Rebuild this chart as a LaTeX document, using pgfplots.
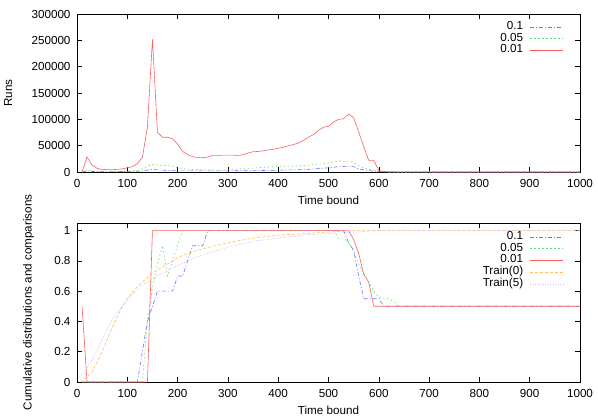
\documentclass[border=0pt]{standalone}
\usepackage{fontspec}
\setmainfont{Liberation Sans}
\usepackage{pgfplots}
\pgfplotsset{compat=1.18}
\definecolor{cblue}{RGB}{110,110,255}
\definecolor{cgreen}{RGB}{100,225,100}
\definecolor{cred}{RGB}{255,95,95}
\definecolor{corange}{RGB}{255,190,90}
\definecolor{cviolet}{RGB}{212,180,255}
\pgfplotsset{
  gp/.style={
    scale only axis, width=503bp,
    xmin=0, xmax=1000, xtick={0,100,...,1000},
    tick align=inside, major tick length=5bp,
    axis line style={line width=0.6bp},
    every tick/.style={black,line width=0.6bp},
    /pgf/number format/assume math mode=true,
    /pgf/number format/set thousands separator={},
    xticklabel style={yshift=-4bp},
    yticklabel style={xshift=-3bp},
    font=\fontsize{11.7}{14}\selectfont,
    legend plot pos=right,
    legend cell align=right,
    legend style={draw=none, fill=none, anchor=north east, row sep=0pt, column sep=7bp,
      font=\fontsize{11.7}{14}\selectfont,
      nodes={inner sep=0pt, text height=8.2bp, text depth=3.5bp}},
    legend image code/.code={\draw[##1] (0bp,0bp) -- (33bp,0bp);},
    xlabel={Time bound},
    every axis plot/.append style={line width=0.6bp},
  },
  sblue/.style={cblue, dash pattern=on 4bp off 2bp on 1bp off 2bp},
  sgreen/.style={cgreen, dash pattern=on 1.5bp off 2.5bp},
  sred/.style={cred, solid},
  sorange/.style={corange, dash pattern=on 3bp off 2bp},
  sviolet/.style={cviolet, dash pattern=on 1bp off 1.5bp},
}
\begin{document}
\begin{tikzpicture}
\path[use as bounding box] (0,0) rectangle (598bp,-419bp);
% ---------------- top ----------------
\begin{axis}[gp, at={(77bp,-14bp)}, anchor=north west, height=158bp,
  ymin=0, ymax=300000, ytick={0,50000,100000,150000,200000,250000,300000},
  scaled y ticks=false, yticklabel style={/pgf/number format/fixed},
  ylabel={Runs},
  ylabel style={at={(axis description cs:-0.137,0.5)}, anchor=center},
  xlabel style={at={(axis description cs:0.5,-0.177)}, anchor=center},
  legend style={at={(axis description cs:0.974,0.968)}},
]
\addplot[sblue] coordinates {
(10,0)(20,2000)(30,1000)(40,800)(60,700)(80,800)(100,1000)(120,1500)(130,2000)
(140,3500)(150,5000)(160,4000)(170,3500)(180,3000)(200,2200)(250,2000)(300,2200)
(350,2500)(400,3500)(450,4500)(480,6500)(500,8000)(520,10000)(540,11000)(550,10000)
(560,6000)(580,2500)(600,800)(620,0)(1000,0)};
\addlegendentry{0.1}
\addplot[sgreen] coordinates {
(10,0)(20,4000)(30,2000)(40,1500)(60,1300)(80,1300)(100,1500)(110,2000)(120,3000)
(130,6000)(140,11000)(150,14500)(160,13000)(170,12500)(180,12000)(190,11000)
(200,8000)(210,6500)(220,5000)(250,4500)(280,3500)(300,4000)(310,5000)(350,7500)
(380,9500)(410,11000)(440,11500)(470,14000)(500,17000)(520,21000)(530,20500)
(540,19000)(550,19000)(560,11500)(570,8000)(580,5000)(600,2000)(610,500)(620,0)(1000,0)};
\addlegendentry{0.05}
\addplot[sred] coordinates {
(10,0)(20,28500)(30,13000)(40,7000)(50,5000)(60,4500)(70,4500)(80,5000)(90,6000)
(100,8000)(110,10000)(120,16000)(130,28000)(140,85000)(150,252000)(160,75000)
(170,66000)(180,66000)(190,63000)(200,53000)(210,39000)(220,33000)(230,29000)
(240,27500)(250,27000)(260,28500)(270,31500)(280,31500)(290,32000)(300,32000)
(310,32000)(320,31500)(330,33000)(340,36000)(350,38500)(360,39000)(370,40000)
(380,42000)(390,43000)(400,45000)(410,47000)(420,50000)(430,52000)(440,55000)
(450,60000)(460,66000)(470,71000)(480,79000)(490,85000)(500,87000)(510,95000)
(520,100000)(530,101000)(540,110000)(550,103000)(560,76000)(570,48000)(580,22000)
(590,22000)(600,3000)(610,1000)(620,500)(650,200)(700,100)(1000,0)};
\addlegendentry{0.01}
\end{axis}
% ---------------- bottom ----------------
\begin{axis}[gp, at={(77bp,-223bp)}, anchor=north west, height=159bp,
  ymin=0, ymax=1.05, ytick={0,0.2,0.4,0.6,0.8,1},
  ylabel={Cumulative distributions and comparisons},
  ylabel style={at={(axis description cs:-0.0964,0.5)}, anchor=center},
  xlabel style={at={(axis description cs:0.5,-0.176)}, anchor=center},
  legend style={at={(axis description cs:0.974,0.962)}},
]
\addplot[sblue] coordinates {
(10,0)(120,0)(130,0.2)(140,0.4)(150,0.5)(160,0.6)(190,0.6)(200,0.7)(210,0.7)
(220,0.8)(230,0.9)(250,0.9)(260,1)(530,1)(540,0.92)(550,0.87)(560,0.7)(570,0.55)
(600,0.55)(610,0.5)(1000,0.5)};
\addlegendentry{0.1}
\addplot[sgreen] coordinates {
(10,0)(130,0)(140,0.4)(150,0.62)(160,0.78)(170,0.9)(180,0.7)(190,0.8)(200,0.9)
(210,1)(510,1)(520,0.95)(530,0.95)(540,0.92)(550,0.86)(560,0.78)(570,0.72)
(580,0.66)(590,0.6)(600,0.56)(610,0.55)(620,0.55)(630,0.53)(640,0.5)(1000,0.5)};
\addlegendentry{0.05}
\addplot[sred] coordinates {
(10,0.5)(20,0)(140,0)(150,1)(540,1)(550,0.94)(560,0.85)(570,0.71)(580,0.66)
(590,0.5)(1000,0.5)};
\addlegendentry{0.01}
\addplot[sorange] coordinates {
(5,0.005)(10,0.01)(20,0.03)(30,0.07)(40,0.13)(50,0.20)(60,0.28)(70,0.36)(80,0.43)
(90,0.50)(100,0.55)(110,0.59)(120,0.63)(130,0.66)(140,0.69)(150,0.72)(160,0.74)
(170,0.76)(180,0.78)(200,0.82)(220,0.85)(250,0.88)(300,0.92)(350,0.95)(400,0.97)
(450,0.98)(500,0.99)(550,1)(1000,1)};
\addlegendentry{Train(0)}
\addplot[sviolet] coordinates {
(5,0.03)(10,0.05)(20,0.09)(30,0.15)(40,0.21)(50,0.28)(60,0.35)(70,0.41)(80,0.46)
(90,0.5)(100,0.54)(110,0.58)(120,0.61)(130,0.64)(140,0.66)(150,0.68)(170,0.72)
(200,0.77)(250,0.84)(300,0.89)(350,0.93)(400,0.95)(450,0.97)(500,0.98)(550,0.99)
(600,1)(1000,1)};
\addlegendentry{Train(5)}
\end{axis}
\end{tikzpicture}
\end{document}
